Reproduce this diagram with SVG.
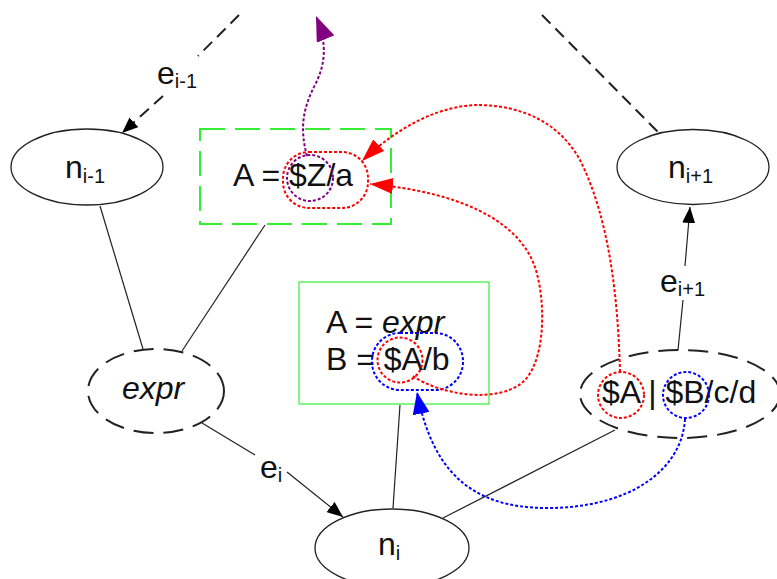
<svg xmlns="http://www.w3.org/2000/svg" width="777" height="579" viewBox="0 0 777 579">
<defs>
<style>
text{font-family:"Liberation Sans",Arial,sans-serif;font-size:32px;fill:#111}
.sub{font-size:20px}
.node{fill:#fff;stroke:#222;stroke-width:1.3}
.dnode{fill:none;stroke:#222;stroke-width:2;stroke-dasharray:20 10}
.edge{fill:none;stroke:#222;stroke-width:1.2}
.dedge{fill:none;stroke:#222;stroke-width:2;stroke-dasharray:12 7}
.red{fill:none;stroke:#f00;stroke-width:2;stroke-dasharray:3 2}
.blue{fill:none;stroke:#00f;stroke-width:2;stroke-dasharray:3 2}
.purple{fill:none;stroke:#800080;stroke-width:2;stroke-dasharray:3 2}
</style>
<marker id="ak" viewBox="0 0 16 13" refX="16" refY="6.5" markerWidth="16" markerHeight="13" markerUnits="userSpaceOnUse" orient="auto"><path d="M0,0 L16,6.5 L0,13 z" fill="#000"/></marker>
<marker id="ar" viewBox="0 0 23 16" refX="23" refY="8" markerWidth="23" markerHeight="16" markerUnits="userSpaceOnUse" orient="auto"><path d="M0,0 L23,8 L0,16 z" fill="#f00"/></marker>
<marker id="ablue" viewBox="0 0 22 17" refX="22" refY="8.5" markerWidth="22" markerHeight="17" markerUnits="userSpaceOnUse" orient="auto"><path d="M0,0 L22,8.5 L0,17 z" fill="#00f"/></marker>
<marker id="ap" viewBox="0 0 25 19" refX="25" refY="9.5" markerWidth="25" markerHeight="19" markerUnits="userSpaceOnUse" orient="auto"><path d="M0,0 L25,9.5 L0,19 z" fill="#800080"/></marker>
</defs>
<rect width="777" height="579" fill="#fff"/>

<g id="connectors">
  <path class="dedge" d="M239,15 L198,56"/>
  <path class="dedge" d="M163,96 L122,133" marker-end="url(#ak)"/>
  <text x="157" y="84">e<tspan class="sub" dy="4">i-1</tspan></text>
  <path class="dedge" d="M542,15 L659,133"/>
  <path class="edge" d="M100,206 L143,349"/>
  <path class="edge" d="M265,225 L182,351"/>
  <path class="edge" d="M202,423 L255,455"/>
  <path class="edge" d="M287,472 L343,517" marker-end="url(#ak)"/>
  <text x="260" y="478">e<tspan class="sub" dy="4">i</tspan></text>
  <path class="edge" d="M400,405 L393,508"/>
  <path class="edge" d="M443,518 L615,430"/>
  <path class="edge" d="M678,350 L683,300"/>
  <path class="edge" d="M685,266 L690,207" marker-end="url(#ak)"/>
  <text x="660" y="292">e<tspan class="sub" dy="4">i+1</tspan></text>
</g>

<g id="n_im1">
  <ellipse class="node" cx="87" cy="167" rx="76" ry="38"/>
  <text x="65" y="178">n<tspan class="sub" dy="5">i-1</tspan></text>
</g>
<g id="n_ip1">
  <ellipse class="node" cx="693" cy="167" rx="76" ry="37.5"/>
  <text x="668" y="178">n<tspan class="sub" dy="5">i+1</tspan></text>
</g>
<g id="n_i">
  <ellipse class="node" cx="392" cy="548" rx="77" ry="39"/>
  <text x="378" y="555">n<tspan class="sub" dy="5">i</tspan></text>
</g>
<g id="expr">
  <ellipse class="dnode" cx="156" cy="391" rx="68" ry="42"/>
  <text x="122" y="399" font-style="italic">expr</text>
</g>
<g id="boxZ">
  <rect x="200" y="129" width="191" height="95" fill="none" stroke="#33ee33" stroke-width="2" stroke-dasharray="25 10"/>
  <text x="233" y="186">A = $Z/a</text>
</g>
<g id="boxAB">
  <rect x="299" y="282" width="190" height="122" fill="none" stroke="#33ee33" stroke-width="1.2"/>
  <text x="326" y="333">A = <tspan font-style="italic">expr</tspan></text>
  <text x="326" y="370">B = $A/b</text>
</g>
<g id="union">
  <ellipse class="dnode" cx="680" cy="394" rx="100" ry="44"/>
  <text x="602" y="403">$A | $B/c/d</text>
</g>

<g id="refs">
  <rect class="red" x="283" y="152" width="85" height="56" rx="26"/>
  <circle class="purple" cx="310" cy="178" r="23"/>
  <path class="purple" d="M307,156 C300,130 302,110 315,85 C325,65 328,45 316,16" marker-end="url(#ap)"/>
  <circle class="red" cx="400" cy="360" r="22.5"/>
  <rect class="blue" x="372" y="333" width="91" height="57" rx="28"/>
  <path class="red" d="M413,376 C440,395 500,405 525,380 C548,355 545,290 533,262 C515,220 460,192 370,184" marker-end="url(#ar)"/>
  <circle class="red" cx="621" cy="395" r="23"/>
  <circle class="blue" cx="686" cy="395" r="23"/>
  <path class="red" d="M620,372 C618,300 610,220 580,160 C555,115 510,105 477,105 C440,106 400,125 362,161" marker-end="url(#ar)"/>
  <path class="blue" d="M685,419 C682,470 630,508 547,508 C470,508 432,470 417,392" marker-end="url(#ablue)"/>
</g>
</svg>
